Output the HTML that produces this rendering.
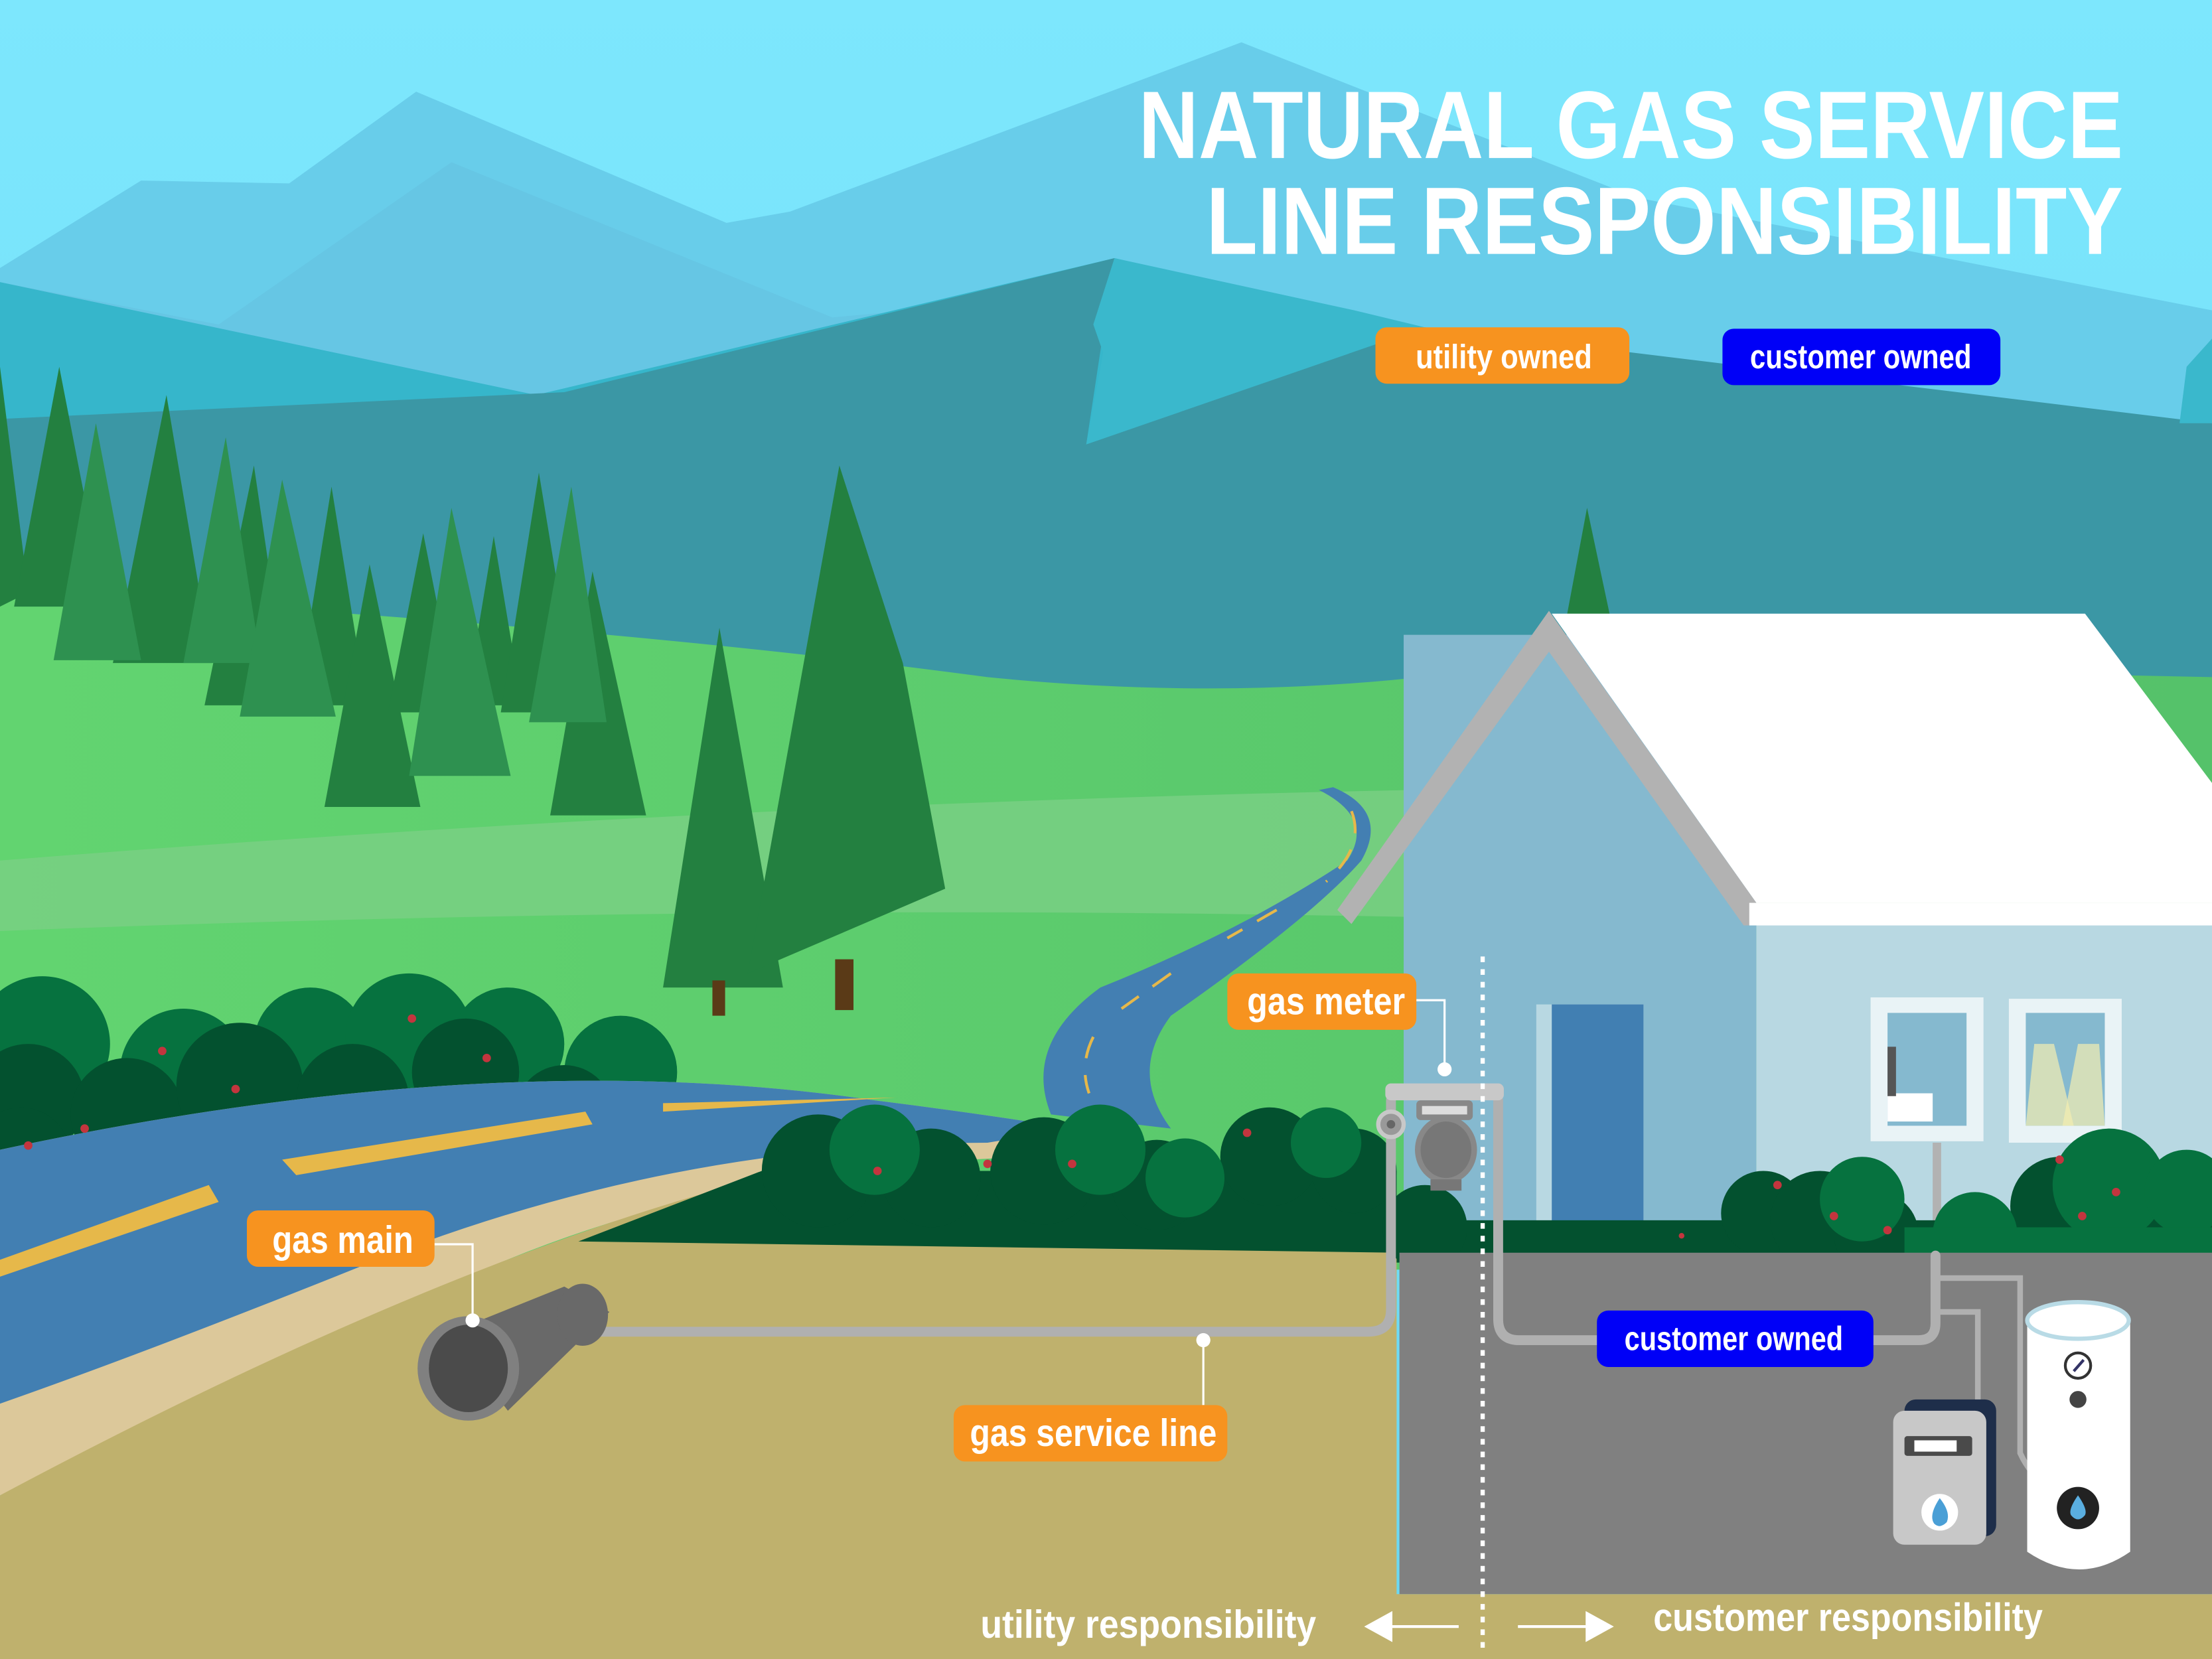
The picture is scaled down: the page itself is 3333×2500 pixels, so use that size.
<!DOCTYPE html>
<html><head><meta charset="utf-8"><style>html,body{margin:0;padding:0;overflow:hidden;background:#7de6fb}svg{display:block}text{font-family:"Liberation Sans",sans-serif;font-weight:bold;fill:#fff}</style></head><body>
<svg width="3333" height="2500" viewBox="0 0 1568 1176" preserveAspectRatio="none" xmlns="http://www.w3.org/2000/svg">
<defs>
<linearGradient id="sky" x1="0" y1="0" x2="0" y2="1"><stop offset="0" stop-color="#7de7fd"/><stop offset="1" stop-color="#6ad8f2"/></linearGradient>
<linearGradient id="grass" x1="0" y1="0" x2="1" y2="0"><stop offset="0" stop-color="#62d470"/><stop offset="1" stop-color="#55c26a"/></linearGradient>
</defs>
<rect width="1568" height="1176" fill="url(#sky)"/>
<polygon points="0,190 100,128 205,130 295,65 515,158 560,150 880,30 1160,140 1568,220 1568,500 0,500" fill="#68cdea"/>
<polygon points="0,200 155,230 320,115 590,225 700,215 790,183 1000,232 1568,300 1568,500 0,500" fill="#66c6e4"/>
<polygon points="0,200 380,280 790,183 1000,232 1568,310 1568,500 0,500" fill="#36b6cb"/>
<polygon points="0,297 400,278 790,183 770,315 1010,232 1568,300 1568,520 0,520" fill="#3b97a5"/>
<polygon points="790,183 775,230 782,250 770,315 1010,232 960,220" fill="#3ab8cc"/>
<polygon points="1568,240 1550,260 1545,300 1568,300" fill="#3ab8cc"/>
<path d="M0,420 Q400,440 700,480 Q900,500 1080,470 L1568,480 L1568,900 L0,900 Z" fill="url(#grass)"/>
<path d="M0,610 Q500,570 1000,560 L1000,650 Q500,640 0,660 Z" fill="#7bcf85" opacity="0.8"/>
<g fill="#238040">
<polygon points="0,260 20,420 0,430"/><polygon points="42,260 10,430 75,430"/><polygon points="118,280 80,470 150,470"/>
<polygon points="180,330 145,500 205,500"/><polygon points="235,345 210,500 260,500"/><polygon points="262,400 230,572 298,572"/>
<polygon points="300,378 275,505 325,505"/><polygon points="350,380 330,500 370,500"/><polygon points="382,335 355,505 410,505"/>
<polygon points="420,405 390,578 458,578"/><polygon points="510,445 470,700 555,700"/><polygon points="595,330 530,690 670,630 640,470"/>
<polygon points="1125,360 1110,440 1142,440"/>
</g>
<g fill="#2e9150">
<polygon points="68,300 38,468 100,468"/><polygon points="160,310 130,470 185,470"/><polygon points="200,340 170,508 238,508"/>
<polygon points="320,360 290,550 362,550"/><polygon points="405,345 375,512 430,512"/>
</g>
<rect x="505" y="695" width="9" height="25" fill="#5a3a17"/><rect x="592" y="680" width="13" height="36" fill="#5a3a17"/>
<path d="M935,560 Q975,580 955,610 Q880,660 780,700 Q725,740 745,790 L830,800 Q800,760 830,720 Q930,650 965,610 Q985,575 945,558 Z" fill="#437fb2"/>
<path d="M958,575 Q968,600 940,625 M905,645 L870,665 M830,690 L795,715 M775,735 Q765,755 772,775" stroke="#e6b84a" stroke-width="2" fill="none" stroke-dasharray="16,12"/>
<g fill="#06723f"><circle cx="30" cy="740" r="48"/><circle cx="130" cy="760" r="45"/><circle cx="220" cy="740" r="40"/><circle cx="290" cy="735" r="45"/><circle cx="360" cy="740" r="40"/><circle cx="440" cy="760" r="40"/></g>
<g fill="#03512f"><circle cx="20" cy="780" r="40"/><circle cx="90" cy="790" r="40"/><circle cx="170" cy="770" r="45"/><circle cx="250" cy="780" r="40"/><circle cx="330" cy="760" r="38"/><circle cx="400" cy="790" r="35"/><circle cx="15" cy="820" r="35"/></g>
<path d="M0,815 Q350,740 620,780 Q700,790 760,800 L760,820 Q500,820 300,920 Q130,1000 0,1060 Z" fill="#dcc89a"/>
<path d="M0,815 Q350,740 620,780 Q700,790 760,800 L700,810 Q470,810 250,900 Q100,960 0,995 Z" fill="#427fb2"/>
<path d="M0,893 L148,840 L155,852 L0,905 Z M200,822 L415,788 L420,797 L210,833 Z M470,782 L635,778 L470,788 Z" fill="#e6b84a"/>
<path d="M0,1060 Q300,900 520,840 L990,840 L990,1176 L0,1176 Z" fill="#bfb16d"/>
<rect x="0" y="1130" width="1568" height="46" fill="#bfb16d"/>
<path d="M410,880 L540,830 L990,830 L990,888 Z" fill="#03512f"/>
<g fill="#03512f"><circle cx="580" cy="830" r="40"/><circle cx="660" cy="835" r="35"/><circle cx="740" cy="830" r="38"/><circle cx="820" cy="840" r="32"/><circle cx="900" cy="820" r="35"/><circle cx="960" cy="830" r="30"/></g>
<g fill="#06723f"><circle cx="620" cy="815" r="32"/><circle cx="780" cy="815" r="32"/><circle cx="840" cy="835" r="28"/><circle cx="940" cy="810" r="25"/></g>
<rect x="995" y="450" width="250" height="420" fill="#85b9cf"/>
<rect x="1245" y="655" width="323" height="215" fill="#b8d8e2"/>
<polygon points="1100,435 1478,435 1568,555 1568,640 1245,640" fill="#fff"/>
<polygon points="1098,433 1245,640 1245,656 1236,656 1098,462 958,655 948,645" fill="#b2b2b2"/>
<rect x="1240" y="640" width="328" height="16" fill="#fff"/>
<rect x="1089" y="712" width="76" height="155" fill="#b8d8e2"/><rect x="1100" y="712" width="65" height="155" fill="#417fb2"/>
<rect x="1326" y="707" width="80" height="102" fill="#e9f3f6"/><rect x="1338" y="718" width="56" height="80" fill="#85b9cf"/>
<rect x="1338" y="775" width="32" height="20" fill="#fff"/><rect x="1338" y="742" width="6" height="35" fill="#555"/>
<rect x="1424" y="708" width="80" height="102" fill="#e9f3f6"/><rect x="1436" y="718" width="56" height="80" fill="#85b9cf"/>
<polygon points="1442,740 1456,740 1470,798 1436,798" fill="#f4eeb0" opacity="0.7"/><polygon points="1473,740 1488,740 1492,798 1462,798" fill="#f4eeb0" opacity="0.7"/>
<rect x="1370" y="810" width="6" height="80" fill="#b2b2b2"/>
<rect x="990" y="865" width="578" height="30" fill="#03512f"/>
<g fill="#03512f"><circle cx="1010" cy="870" r="30"/><circle cx="1250" cy="860" r="30"/><circle cx="1290" cy="865" r="35"/><circle cx="1330" cy="875" r="30"/><circle cx="1460" cy="855" r="35"/><circle cx="1530" cy="870" r="30"/></g>
<g fill="#06723f"><circle cx="1320" cy="850" r="30"/><circle cx="1400" cy="875" r="30"/><circle cx="1495" cy="840" r="40"/><circle cx="1550" cy="845" r="30"/></g>
<rect x="1350" y="870" width="218" height="20" fill="#06723f"/>
<g fill="#c3353e"><circle cx="292" cy="722" r="3"/><circle cx="115" cy="745" r="3"/><circle cx="167" cy="772" r="3"/><circle cx="345" cy="750" r="3"/><circle cx="20" cy="812" r="3"/><circle cx="60" cy="800" r="3"/><circle cx="622" cy="830" r="3"/><circle cx="700" cy="825" r="3"/><circle cx="760" cy="825" r="3"/><circle cx="884" cy="803" r="3"/><circle cx="1260" cy="840" r="3"/><circle cx="1300" cy="862" r="3"/><circle cx="1338" cy="872" r="3"/><circle cx="1460" cy="822" r="3"/><circle cx="1500" cy="845" r="3"/><circle cx="1476" cy="862" r="3"/><circle cx="1192" cy="876" r="2"/></g>
<rect x="992" y="888" width="576" height="242" fill="#808080"/>
<g fill="none" stroke="#b0b0b0" stroke-width="7" stroke-linecap="round">
<path d="M395,944 L970,944 Q986,944 986,928 L986,780"/>
<path d="M1062,780 L1062,935 Q1062,950 1077,950 L1360,950 Q1372,950 1372,938 L1372,890"/>
</g>
<path d="M1372,906 L1432,906 L1432,1030 Q1440,1048 1460,1060 Q1470,1070 1472,1070 M1372,930 L1402,930 L1402,995" fill="none" stroke="#b0b0b0" stroke-width="4"/>
<rect x="982" y="768" width="84" height="12" rx="4" fill="#c8c8c8"/>
<rect x="1004" y="780" width="40" height="14" rx="3" fill="#888"/><rect x="1008" y="784" width="32" height="6" fill="#ddd"/>
<ellipse cx="1025" cy="815" rx="22" ry="24" fill="#888"/><ellipse cx="1025" cy="815" rx="18" ry="20" fill="#777"/>
<rect x="1014" y="836" width="22" height="8" fill="#777"/>
<circle cx="986" cy="797" r="9" fill="#999" stroke="#c8c8c8" stroke-width="3"/><circle cx="986" cy="797" r="3" fill="#666"/>
<polygon points="318,945 400,912 432,930 360,1000" fill="#696969"/>
<ellipse cx="413" cy="932" rx="18" ry="22" fill="#696969"/>
<ellipse cx="332" cy="970" rx="36" ry="37" fill="#808080"/><ellipse cx="332" cy="970" rx="28" ry="31" fill="#4b4b4b"/>
<rect x="1350" y="992" width="65" height="97" rx="8" fill="#1e2e4a"/>
<rect x="1342" y="1000" width="66" height="95" rx="8" fill="#c8c8c8"/>
<rect x="1350" y="1018" width="48" height="14" rx="2" fill="#4a4a4a"/><rect x="1357" y="1021" width="30" height="8" fill="#fff"/>
<circle cx="1375" cy="1072" r="13" fill="#fff"/><path d="M1375,1062 Q1367,1074 1371,1080 Q1375,1084 1380,1079 Q1383,1072 1375,1062 Z" fill="#4a9fd6"/>
<path d="M1437,935 L1510,935 L1510,1100 Q1474,1125 1437,1100 Z" fill="#fff"/>
<ellipse cx="1473" cy="936" rx="36" ry="13" fill="#fff" stroke="#b9dbe6" stroke-width="3"/>
<circle cx="1473" cy="968" r="9" fill="#fff" stroke="#333" stroke-width="2"/><line x1="1470" y1="972" x2="1477" y2="964" stroke="#336" stroke-width="2"/>
<circle cx="1473" cy="992" r="6" fill="#444"/>
<circle cx="1473" cy="1069" r="15" fill="#222"/><path d="M1473,1060 Q1466,1070 1468,1074 Q1473,1080 1478,1074 Q1480,1070 1473,1060 Z" fill="#5aaee0"/>
<line x1="1051" y1="678" x2="1051" y2="1172" stroke="#fff" stroke-width="3" stroke-dasharray="4,5"/>
<g stroke="#fff" stroke-width="1.5" fill="none"><path d="M308,882 L335,882 L335,935"/><path d="M853,950 L853,996"/><path d="M1004,709 L1024,709 L1024,757"/></g>
<g fill="#fff"><circle cx="335" cy="936" r="5"/><circle cx="853" cy="950" r="5"/><circle cx="1024" cy="758" r="5"/></g>
<line x1="985" y1="1153" x2="1034" y2="1153" stroke="#fff" stroke-width="2"/><polygon points="967,1153 987,1142 987,1164" fill="#fff"/>
<line x1="1076" y1="1153" x2="1125" y2="1153" stroke="#fff" stroke-width="2"/><polygon points="1144,1153 1124,1142 1124,1164" fill="#fff"/>
<rect x="975" y="232" width="180" height="40" rx="8" fill="#f7931f"/><text x="1066" y="261" font-size="24" text-anchor="middle" textLength="125" lengthAdjust="spacingAndGlyphs">utility owned</text>
<rect x="1221" y="233" width="197" height="40" rx="8" fill="#0000f7"/><text x="1319" y="261" font-size="24" text-anchor="middle" textLength="157" lengthAdjust="spacingAndGlyphs">customer owned</text>
<rect x="870" y="690" width="134" height="40" rx="8" fill="#f7931f"/><text x="940" y="719" font-size="27" text-anchor="middle" textLength="112" lengthAdjust="spacingAndGlyphs">gas meter</text>
<rect x="175" y="858" width="133" height="40" rx="8" fill="#f7931f"/><text x="243" y="888" font-size="27" text-anchor="middle" textLength="100" lengthAdjust="spacingAndGlyphs">gas main</text>
<rect x="676" y="996" width="194" height="40" rx="8" fill="#f7931f"/><text x="775" y="1025" font-size="27" text-anchor="middle" textLength="175" lengthAdjust="spacingAndGlyphs">gas service line</text>
<rect x="1132" y="929" width="196" height="40" rx="8" fill="#0000f7"/><text x="1229" y="957" font-size="24" text-anchor="middle" textLength="155" lengthAdjust="spacingAndGlyphs">customer owned</text>
<text x="814" y="1161" font-size="28" text-anchor="middle" textLength="238" lengthAdjust="spacingAndGlyphs">utility responsibility</text>
<text x="1310" y="1156" font-size="28" text-anchor="middle" textLength="276" lengthAdjust="spacingAndGlyphs">customer responsibility</text>
<text x="1505" y="112" font-size="68" text-anchor="end" textLength="698" lengthAdjust="spacingAndGlyphs">NATURAL GAS SERVICE</text>
<text x="1505" y="180" font-size="68" text-anchor="end" textLength="650" lengthAdjust="spacingAndGlyphs">LINE RESPONSIBILITY</text>
</svg>
</body></html>
